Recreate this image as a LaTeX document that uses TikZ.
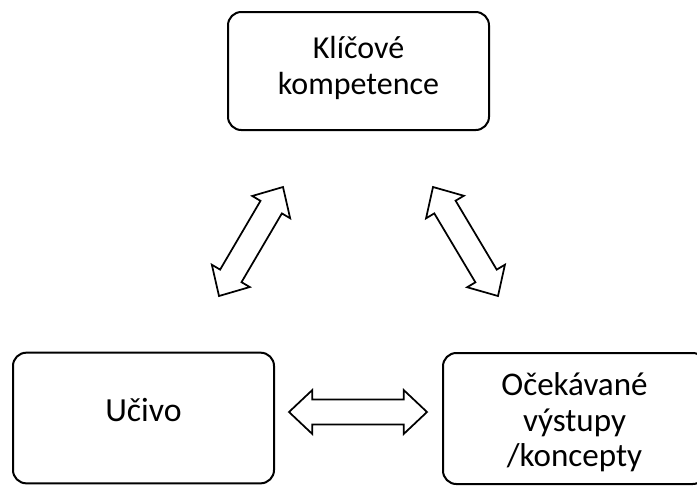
\documentclass[tikz,border=0pt]{standalone}
\usepackage{fontspec}
\setmainfont{Carlito}
\usetikzlibrary{calc}
\newcommand\arrH{17.5pt}
\newcommand\arrW{16.5pt}
\newcommand\arrw{9.3pt}
\newcommand\dblarr[2]{%
  \draw[arrshape] (#1)
    -- ($(#1)!\arrH!(#2)!\arrW!90:(#2)$)
    -- ($(#1)!\arrH!(#2)!\arrw!90:(#2)$)
    -- ($(#2)!\arrH!(#1)!\arrw!-90:(#1)$)
    -- ($(#2)!\arrH!(#1)!\arrW!-90:(#1)$)
    -- (#2)
    -- ($(#2)!\arrH!(#1)!\arrW!90:(#1)$)
    -- ($(#2)!\arrH!(#1)!\arrw!90:(#1)$)
    -- ($(#1)!\arrH!(#2)!\arrw!-90:(#2)$)
    -- ($(#1)!\arrH!(#2)!\arrW!-90:(#2)$)
    -- cycle;}
\begin{document}
\begin{tikzpicture}[x=0.75pt,y=-0.75pt,
  box/.style={draw=black, line width=1.5pt, rounded corners=10pt, fill=white, inner sep=0pt},
  txt/.style={align=center, text=black},
  arrshape/.style={draw=black, line width=1.3pt, fill=white, line join=miter}]
\useasboundingbox (0,0) rectangle (697,487);
\clip (0,0) rectangle (697,487);
\fill[white] (0,0) rectangle (697,487);
\node[box, minimum width=195.75pt, minimum height=88.5pt,
  label={[txt, yshift=2.5pt, font=\fontsize{24}{27.3}\selectfont]center:{Klíčové\\kompetence}}]
  (kk) at (358.5,71) {};
\node[box, minimum width=195.75pt, minimum height=98pt,
  label={[txt, yshift=6pt, font=\fontsize{25.3}{26.5}\selectfont]center:{Učivo}}]
  (uc) at (143.5,418) {};
\node[box, minimum width=197.25pt, minimum height=98.25pt,
  label={[txt, yshift=-3pt, font=\fontsize{24.8}{26.5}\selectfont]center:{Očekávané\\výstupy\\/koncepty}}]
  (ov) at (574.5,418.5) {};
\coordinate (h1) at (289,412);
\coordinate (h2) at (427,412);
\coordinate (l1) at (283,187);
\coordinate (l2) at (219,296);
\coordinate (r1) at (433,187);
\coordinate (r2) at (498,296);
\dblarr{h1}{h2}
\dblarr{l1}{l2}
\dblarr{r1}{r2}
\end{tikzpicture}
\end{document}
